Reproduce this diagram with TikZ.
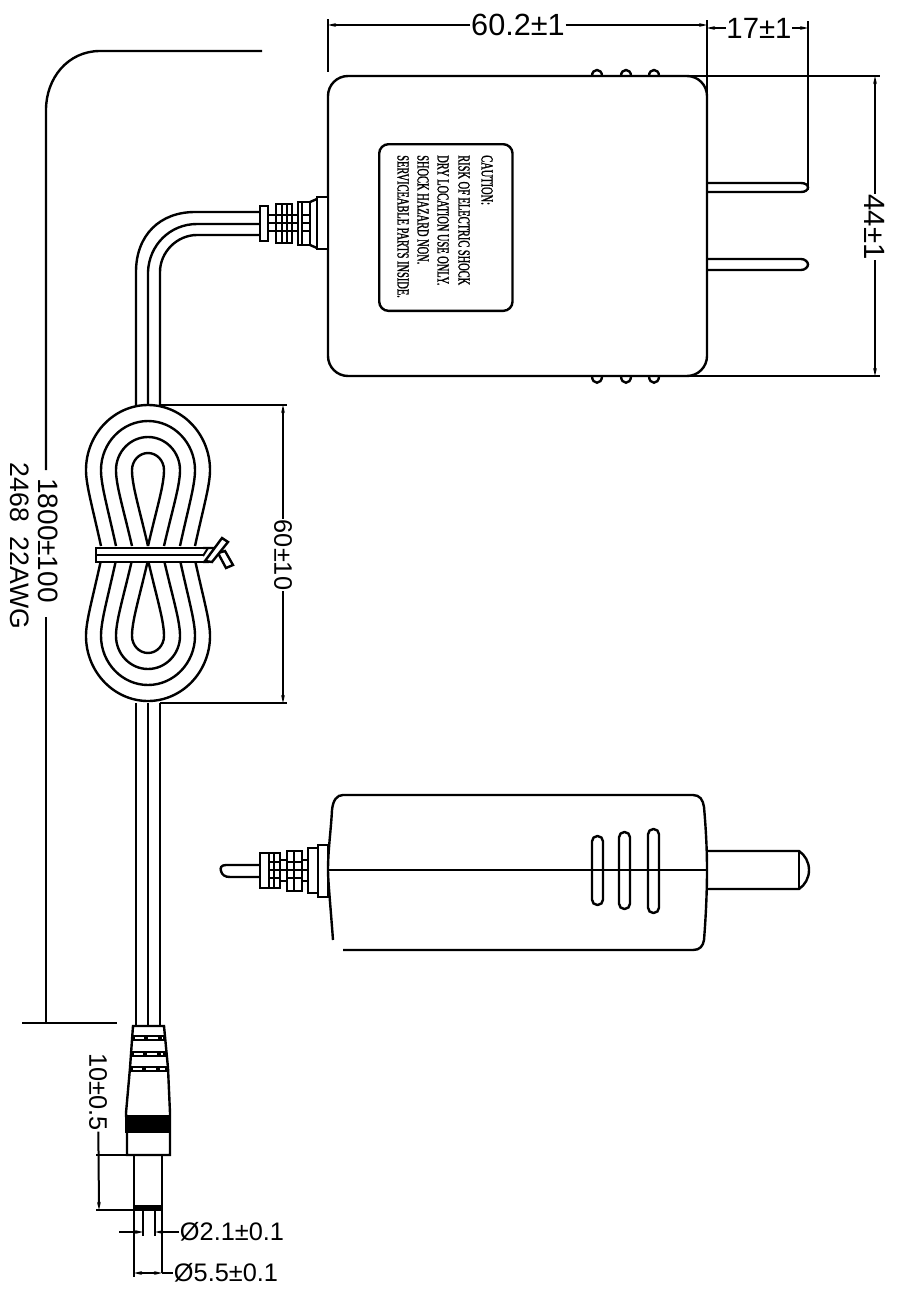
\documentclass[tikz,border=0pt]{standalone}
\usepackage{fontspec}
\setmainfont{Liberation Sans}
\newfontfamily\labelfont[FakeStretch=0.62,FakeBold=1.2]{Liberation Serif}
\usetikzlibrary{arrows.meta}
\usetikzlibrary{calc}
\tikzset{
    % Small slim arrows for the dimension lines
    >={Stealth[length=6pt,width=2.8pt]},
%
    % Body outlines and cable
    outline/.style={draw, line width=1.8pt},
    % Extension and dimension lines
    dim line/.style={draw, line width=1.5pt},
    % Dimension figures, set close to their line
    dim text/.style={inner sep=0.5pt, fill=white, font=\fontsize{#1}{#1}\selectfont},
    dim text/.default=21pt,
    % One line of the caution label, running down the page
    label line/.style={rotate=-90, anchor=west, inner sep=0,
        font=\labelfont\fontsize{12.6}{13}\selectfont}}

\begin{document}
\begin{tikzpicture}[x=.75pt, y=-.75pt]

\path[use as bounding box, fill=white] (0,0) rectangle (897,1292);

% Top view: housing, prongs and bumps
\draw[outline, rounded corners=15pt] (328,76) rectangle (707,376);
\node [draw, line width=1.8pt, rounded corners=7pt, minimum width=100pt, minimum height=125pt,
    anchor=north west] (caution box) at (378,143) {};
\node [label line] (line one) at (487,155) {CAUTION:};
\node [label line] (line two) at (464,155) {RISK OF ELECTRIC SHOCK};
\node [label line] (line three) at (443,155) {DRY LOCATION USE ONLY.};
\node [label line] (line four) at (423,155) {SHOCK HAZARD NON.};
\node [label line] (line five) at (403,155) {SERVICEABLE PARTS INSIDE.};

\draw[outline] (707,183) -- (801,183) .. controls (805,183) and (808,185) .. (808,187.5)
    .. controls (808,190) and (805,192) .. (801,192) -- (707,192);
\draw[outline] (707,259) -- (801,259) .. controls (805,259) and (808,262) .. (808,264.5)
    .. controls (808,267) and (805,270) .. (801,270) -- (707,270);
\foreach \bx in {597,626,654} {
    \draw[outline] (\bx-5,76) .. controls (\bx-5,68) and (\bx+5,68) .. (\bx+5,76);
    \draw[outline] (\bx-5,376) .. controls (\bx-5,385) and (\bx+5,385) .. (\bx+5,376);
}

% Strain relief of the top view
\draw[outline] (260,206) rectangle (268,241);
\draw[outline] (276,204) rectangle (292,243);
\draw[outline] (298,202) rectangle (310,245);
\draw[outline] (310,202) -- (317,199) (310,245) -- (317,248);
\draw[outline, fill=white] (317,197) rectangle (328,249);
\draw[dim line] (282,204) -- (282,243) (287,204) -- (287,243) (302,202) -- (302,245);
\foreach \ry in {215,223,231} {
    \draw[dim line] (268,\ry) -- (298,\ry) (302,\ry) -- (310,\ry);
}

% Cable from the housing to the coil
\draw[outline] (260,212) -- (195,212) .. controls (160,212) and (136,235) .. (136,272) -- (136,405);
\draw[outline] (260,224) -- (197,224) .. controls (170,224) and (149,245) .. (148,272) -- (148,405);
\draw[outline] (260,235) -- (197,235) .. controls (177,235) and (160,252) .. (160,272) -- (160,405);

% Coil: four nested lobes above and below the tie
\foreach \m in {-1,1} \foreach \s in {-1,1} \foreach \hw/\wst/\dist in {62/47/148, 47/32/132, 32/16/116, 16/0/100} {
    \draw[outline] ({148+\s*\wst},{553+\m*7})
        .. controls ({148+\s*(\wst+.6*(\hw-\wst))},{553+\m*48}) and ({148+\s*\hw},{553+\m*68})
        .. ({148+\s*\hw},{553+\m*83})
        .. controls ({148+\s*\hw},{553+\m*(83+.55*(\dist-83))}) and ({148+\s*.55*\hw},{553+\m*\dist})
        .. (148,{553+\m*\dist});
}
% Cable tie
\draw[outline, fill=white] (203,548) -- (96,548) -- (96,562) -- (203,562);
\draw[outline] (96,555) -- (203,555);
\draw[outline, fill=white] (203,548) -- (216,548) -- (208,562) -- (203,562);
\draw[dim line] (203,556) -- (208,548);
\draw[outline, fill=white] (218,553) -- (225,551) -- (233,565) -- (226,568) -- cycle;
\draw[outline, fill=white] (205,561) -- (222,538) -- (228,542) -- (212,562) -- cycle;

% Cable down to the plug
\foreach \wx in {136,148,160} {
    \draw[outline] (\wx,703) -- (\wx,1026);
}

% Barrel plug
\draw[outline] (133,1026) -- (164,1026) -- (168,1068) -- (170,1113) -- (170,1155) -- (127,1155)
    -- (127,1133) -- (126,1113) -- (130,1068) -- cycle;
\foreach \by/\bl/\br in {1038/132/165, 1054/131/166, 1069/130/168} {
    \draw[line width=5pt] (\bl,\by) -- (\br,\by);
    \draw[white, line width=1pt, dash pattern=on 7pt off 3pt] (\bl+3,\by) -- (\br-3,\by);
}
\fill (125,1115) rectangle (170,1133);
\draw[outline] (134,1155) -- (134,1277);
\draw[outline] (162,1155) -- (162,1273);
\fill (134,1205) rectangle (162,1211);
\draw[outline] (143,1211) -- (143,1236);
\draw[outline] (155,1211) -- (155,1236);

% Side view: housing, slots and prong
\draw[outline] (333,940) .. controls (330,900) and (328,880) .. (328,870)
    .. controls (328,850) and (331,830) .. (332,810)
    .. controls (333,800) and (337,795) .. (343,795) -- (693,795)
    .. controls (700,795) and (703,800) .. (704,807)
    .. controls (706,830) and (707,850) .. (707,870)
    .. controls (707,890) and (706,915) .. (704,940)
    .. controls (703,946) and (700,950) .. (693,950) -- (343,950);
\draw[outline] (328,870) -- (707,870);
\foreach \sx/\st/\sb in {592/836/905, 619/832/909, 648/829/913} {
    \draw[outline, rounded corners=4pt] (\sx,\st) rectangle (\sx+11,\sb);
}
\draw[outline] (707,851) -- (799,851) .. controls (805,855) and (809,862) .. (809,870)
    .. controls (809,878) and (805,885) .. (799,889) -- (707,889);
\draw[outline] (799,851) -- (799,889);

% Strain relief of the side view
\draw[outline] (260,865) -- (226,865) .. controls (221,865) and (220,868) .. (221,871)
    .. controls (222,875) and (225,877) .. (230,877) -- (260,877);
\draw[outline] (260,853) rectangle (280,888);
\draw[outline] (287,851) rectangle (302,891);
\draw[outline] (308,848) rectangle (318,893);
\draw[outline] (318,845) rectangle (328,897);
\draw[dim line] (269,853) -- (269,888) (274,853) -- (274,888) (294,851) -- (294,891);
\draw[dim line] (269,862) -- (280,862) (269,870) -- (308,870) (269,878) -- (280,878)
    (287,862) -- (302,862) (287,878) -- (302,878);
\draw[outline] (280,860) -- (287,860) (280,881) -- (287,881) (302,860) -- (308,860) (302,881) -- (308,881);

% Overall length
\node [dim text=21pt, rotate=-90] (length text) at (48,540.5) {1800±100};
\node [dim text=20pt, rotate=-90] (cable text) at (20,546) {2468\ \ 22AWG};
\coordinate (length top) at (262,51);
\coordinate (length bottom) at (22,1023);
\draw[outline] (length top) -- (100,51) .. controls (68,51) and (46,78) .. (46,110) -- (46,470);
\draw[outline] (46,617) -- (46,1023);
\draw[outline] (length bottom) -- (117,1023);

% Coil height
\node [dim text=19pt, rotate=-90] (coil text) at (283,555) {60±10};
\coordinate (coil top) at (283,405);
\coordinate (coil bottom) at (283,703);
\draw[dim line] (160,405) -- (287,405) (160,703) -- (287,703);
\draw[dim line, ->] (coil text) -- (coil top);
\draw[dim line, ->] (coil text) -- (coil bottom);

% Housing dimensions
\node [dim text=23pt] (width text) at (518,25) {60.2±1};
\coordinate (width left) at (328,25);
\coordinate (width right) at (707,25);
\draw[dim line] (328,19) -- (328,72) (707,20) -- (707,96);
\draw[dim line, ->] (width text) -- (width left);
\draw[dim line, ->] (width text) -- (width right);

\node [dim text=22pt] (prong text) at (759,28) {17±1};
\coordinate (prong left) at (707,28);
\coordinate (prong right) at (808,28);
\draw[dim line] (808,21) -- (808,190);
\draw[dim line, ->] (prong text) -- (prong left);
\draw[dim line, ->] (prong text) -- (prong right);

\node [dim text=22pt, rotate=-90] (depth text) at (875,227) {44±1};
\coordinate (depth top) at (875,76);
\coordinate (depth bottom) at (875,376);
\draw[dim line] (690,76) -- (880,76) (690,376) -- (880,376);
\draw[dim line, ->] (depth text) -- (depth top);
\draw[dim line, ->] (depth text) -- (depth bottom);

% Plug dimensions
\node [dim text=19pt, rotate=-90] (pin text) at (98,1092) {10±0.5};
\coordinate (pin bottom) at (99,1210);
\draw[dim line] (96,1155) -- (134,1155) (96,1210) -- (134,1210);
\draw[dim line, ->] (pin text) -- (pin bottom);

\node [dim text=19pt] (inner text) at (232,1232) {Ø2.1±0.1};
\coordinate (inner left) at (119,1232);
\coordinate (inner right) at (155,1232);
\draw[dim line, ->] (inner left) -- (143,1232);
\draw[dim line, ->] (inner text) -- (inner right);

\node [dim text=19pt] (outer text) at (226,1273) {Ø5.5±0.1};
\coordinate (outer left) at (134,1273);
\coordinate (outer right) at (162,1273);
\draw[dim line, <->] (outer left) -- (outer right);
\draw[dim line] (outer right) -- (outer text);

\end{tikzpicture}
\end{document}
